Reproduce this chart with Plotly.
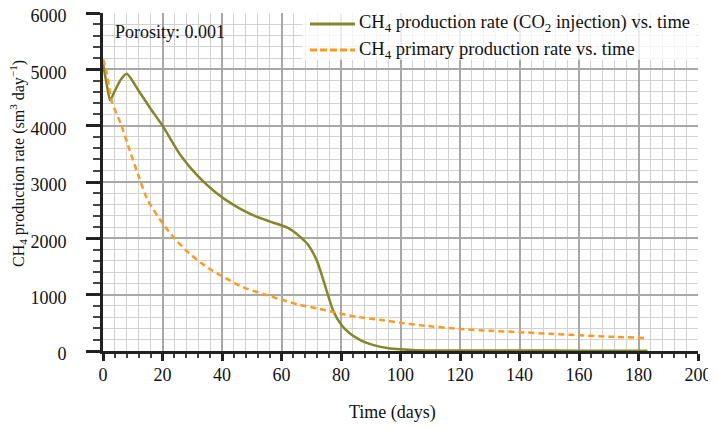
import plotly.graph_objects as go

# Data
co2_time = [0, 1.2, 2.4, 4, 6, 8, 12, 16, 20, 26, 32, 38, 44, 50, 56, 62, 66, 69, 72, 75,
            77.5, 80, 83, 87, 91, 96, 100, 105, 120, 140, 160, 183]
co2_rate = [5100, 4750, 4450, 4620, 4820, 4920, 4620, 4300, 4000, 3480, 3100, 2810, 2590,
            2420, 2300, 2190, 2040, 1880, 1590, 1100, 700, 470, 310, 180, 105, 50, 30, 15,
            10, 8, 6, 5]

prim_time = [0, 1, 2, 3, 6, 9, 12, 15, 20, 24, 28, 33, 37, 42, 47, 54, 60, 66, 72, 77.5,
             85, 93, 100, 107, 120, 130, 140, 150, 160, 170, 183]
prim_rate = [5180, 5000, 4700, 4420, 4030, 3560, 3100, 2680, 2270, 2000, 1780, 1560, 1420,
             1270, 1130, 1010, 910, 820, 755, 690, 610, 555, 500, 455, 390, 360, 335, 305,
             280, 255, 230]

x_ticks = [0, 20, 40, 60, 80, 100, 120, 140, 160, 180, 200]
y_ticks = [0, 1000, 2000, 3000, 4000, 5000, 6000]

name_co2 = "CH<sub>4</sub> production rate (CO<sub>2</sub> injection) vs. time"
name_prim = "CH<sub>4</sub> primary production rate vs. time"

FONT = "Liberation Serif, Times New Roman, serif"
GREEN = "#85852a"
ORANGE = "#ff9a1f"

fig = go.Figure()
fig.add_trace(go.Scatter(
    x=co2_time, y=co2_rate, mode="lines", name=name_co2, showlegend=False,
    line=dict(color=GREEN, width=2.5, shape="spline", smoothing=0.6),
))
fig.add_trace(go.Scatter(
    x=prim_time, y=prim_rate, mode="lines", name=name_prim, showlegend=False,
    line=dict(color=ORANGE, width=2.5, dash="6px,4px", shape="spline", smoothing=0.6),
))

fig.add_annotation(x=3.4, y=5670, xref="x", yref="y", text="Porosity: 0.001",
                   showarrow=False, xanchor="left", yanchor="middle",
                   font=dict(family=FONT, size=18, color="#111"))

# legend drawn manually (box, line samples, labels)
fig.add_shape(type="rect", xref="paper", yref="paper", x0=0.3345, x1=0.9983, y0=0.862, y1=1.0,
              fillcolor="rgba(255,255,255,0.78)", line=dict(width=0), layer="above")
fig.add_shape(type="line", xref="paper", yref="paper", x0=0.3479, x1=0.4235, y0=0.9675, y1=0.9675,
              line=dict(color=GREEN, width=3), layer="above")
fig.add_shape(type="line", xref="paper", yref="paper", x0=0.3479, x1=0.4235, y0=0.8905, y1=0.8905,
              line=dict(color=ORANGE, width=3, dash="7px,3px"), layer="above")
fig.add_annotation(x=0.4269, y=0.9675, xref="paper", yref="paper", text=name_co2,
                   showarrow=False, xanchor="left", yanchor="middle",
                   font=dict(family=FONT, size=18.5, color="#111"))
fig.add_annotation(x=0.4269, y=0.8905, xref="paper", yref="paper", text=name_prim,
                   showarrow=False, xanchor="left", yanchor="middle",
                   font=dict(family=FONT, size=18.5, color="#111"))

# axis titles as annotations for exact placement
fig.add_annotation(x=0.486, y=-0.1834, xref="paper", yref="paper", text="Time (days)",
                   showarrow=False, xanchor="center", yanchor="middle",
                   font=dict(family=FONT, size=18, color="#111"))
fig.add_annotation(x=-0.143, y=0.556, xref="paper", yref="paper",
                   text="CH<sub>4</sub> production rate (sm<sup>3</sup> day<sup>−1</sup>)",
                   textangle=-90, showarrow=False, xanchor="center", yanchor="middle",
                   font=dict(family=FONT, size=16, color="#111"))

fig.update_layout(
    width=708, height=414,
    margin=dict(l=95, r=18, t=5, b=71, autoexpand=False),
    paper_bgcolor="white", plot_bgcolor="white",
    font=dict(family=FONT, size=18, color="#111"),
    showlegend=False,
    xaxis=dict(
        range=[0, 200], tickmode="array", tickvals=x_ticks, ticktext=[str(v) for v in x_ticks],
        automargin=False,
        showgrid=True, gridcolor="#a8a8a8", gridwidth=1.5,
        showline=True, linecolor="#222", linewidth=3,
        ticks="outside", ticklen=7, tickwidth=3, tickcolor="#222",
        zeroline=False, ticklabeloverflow="allow", ticklabelstandoff=-2,
        minor=dict(dtick=4, showgrid=True, gridcolor="#d2d2d2", gridwidth=1,
                   ticks="outside", ticklen=4, tickwidth=1.5, tickcolor="#444"),
        tickfont=dict(family=FONT, size=18),
    ),
    yaxis=dict(
        range=[0, 6000], tickmode="array", tickvals=y_ticks, ticktext=[str(v) for v in y_ticks],
        automargin=False,
        showgrid=True, gridcolor="#a8a8a8", gridwidth=1.5,
        showline=True, linecolor="#222", linewidth=3,
        ticks="outside", ticklen=14, tickwidth=3, tickcolor="#222",
        zeroline=False, ticklabeloverflow="allow", ticklabelstandoff=16, ticklabelshift=3,
        minor=dict(dtick=200, showgrid=True, gridcolor="#d2d2d2", gridwidth=1,
                   ticks="outside", ticklen=7, tickwidth=1.5, tickcolor="#444"),
        tickfont=dict(family=FONT, size=18),
    ),
)

fig.write_html("out.html")
